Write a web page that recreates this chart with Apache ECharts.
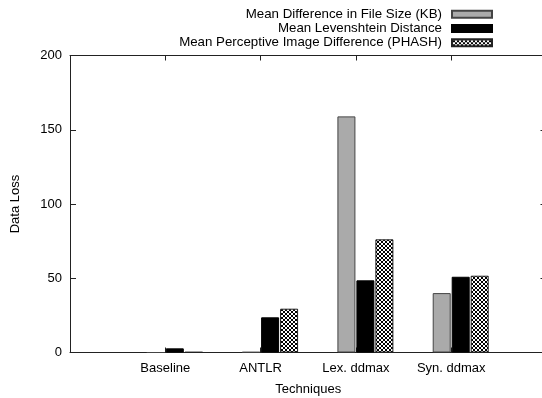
<!DOCTYPE html>
<html>
<head>
<meta charset="utf-8">
<script src="https://cdn.jsdelivr.net/npm/echarts@6/dist/echarts.min.js"></script>
<style>html,body{margin:0;padding:0;background:#fff;}#c{width:542px;height:398px;}</style>
</head>
<body>
<div id="c"></div>
<script>
const categories = ['Baseline', 'ANTLR', 'Lex. ddmax', 'Syn. ddmax'];
const fileSizeKB = [0, 0.3, 159, 40];
const levenshtein = [2.8, 23.7, 48.6, 51];
const phash = [0.3, 29.5, 76.2, 51.7];
const seriesNames = ['Mean Difference in File Size (KB)', 'Mean Levenshtein Distance', 'Mean Perceptive Image Difference (PHASH)'];
const yTicks = [0, 50, 100, 150, 200];

// checker/crosshatch pattern
const pc = document.createElement('canvas');
pc.width = 4; pc.height = 4;
const pctx = pc.getContext('2d');
pctx.fillStyle = '#fff'; pctx.fillRect(0, 0, 4, 4);
pctx.fillStyle = '#000';
[[0,0],[1,1],[2,2],[3,3],[3,0],[2,1],[1,2],[0,3]].forEach(p => pctx.fillRect(p[0], p[1], 1, 1));

const FONT = 'Liberation Sans, Arial, Helvetica, sans-serif';
const plotLeft = 70, plotTop = 55.5, plotH = 297, plotW = 476.5;
const band = plotW / 5;
const axisCats = [''].concat(categories, ['']);

const chart = echarts.init(document.getElementById('c'), null, {renderer: 'canvas'});
const lineStyle = {color: '#222', width: 1};
chart.setOption({
  animation: false,
  backgroundColor: '#fff',
  textStyle: {fontFamily: FONT},
  legend: {
    orient: 'vertical', align: 'right', right: 44, top: 2,
    itemWidth: 40, itemHeight: 7, itemGap: 0, icon: 'rect',
    textStyle: {fontFamily: FONT, fontSize: 13.3, color: '#000', lineHeight: 14.3, padding: [0, 5, 0, 0]},
    data: seriesNames
  },
  grid: [
    {left: plotLeft, top: plotTop, width: plotW, height: plotH, containLabel: false, outerBoundsMode: 'none'},
    {left: plotLeft + band / 2 + 9.5, top: plotTop, width: band * 4, height: plotH, containLabel: false, outerBoundsMode: 'none'}
  ],
  xAxis: [
    {type: 'category', gridIndex: 0, data: axisCats, boundaryGap: false, position: 'bottom',
     name: 'Techniques', nameLocation: 'middle', nameGap: 30,
     nameTextStyle: {fontFamily: FONT, fontSize: 13, color: '#000'},
     axisLine: {show: true, onZero: false, lineStyle}, axisTick: {show: true, inside: true, length: 5, lineStyle},
     axisLabel: {fontFamily: FONT, fontSize: 13, color: '#000', margin: 9, interval: 0}, splitLine: {show: false}},
    {type: 'category', gridIndex: 0, data: axisCats, boundaryGap: false, position: 'top',
     axisLine: {show: true, onZero: false, lineStyle}, axisTick: {show: true, inside: true, length: 5, lineStyle},
     axisLabel: {show: false}, splitLine: {show: false}},
    {type: 'category', gridIndex: 1, data: categories, boundaryGap: true, show: false}
  ],
  yAxis: [
    {type: 'value', gridIndex: 0, min: 0, max: 200, interval: 50, position: 'left',
     name: 'Data Loss', nameLocation: 'middle', nameGap: 48, nameRotate: 90,
     nameTextStyle: {fontFamily: FONT, fontSize: 13, color: '#000'},
     axisLine: {show: true, onZero: false, lineStyle}, axisTick: {show: true, inside: true, length: 6, lineStyle},
     axisLabel: {fontFamily: FONT, fontSize: 13, color: '#000', margin: 8}, splitLine: {show: false}},
    {type: 'value', gridIndex: 0, min: 0, max: 200, interval: 50, position: 'right',
     axisLine: {show: true, onZero: false, lineStyle}, axisTick: {show: true, inside: true, length: 6, lineStyle},
     axisLabel: {show: false}, splitLine: {show: false}},
    {type: 'value', gridIndex: 1, min: 0, max: 200, interval: 50, show: false}
  ],
  series: [
    {name: seriesNames[0], type: 'bar', xAxisIndex: 2, yAxisIndex: 2, data: fileSizeKB,
     barWidth: 18, barGap: '5.5%',
     itemStyle: {color: '#aaaaaa', borderColor: '#444', borderWidth: 1}},
    {name: seriesNames[1], type: 'bar', xAxisIndex: 2, yAxisIndex: 2, data: levenshtein,
     barWidth: 18, barGap: '5.5%',
     itemStyle: {color: '#000', borderColor: '#000', borderWidth: 1}},
    {name: seriesNames[2], type: 'bar', xAxisIndex: 2, yAxisIndex: 2, data: phash,
     barWidth: 18, barGap: '5.5%',
     itemStyle: {color: {image: pc, repeat: 'repeat'}, borderColor: '#222', borderWidth: 1}}
  ]
});
</script>
</body>
</html>
